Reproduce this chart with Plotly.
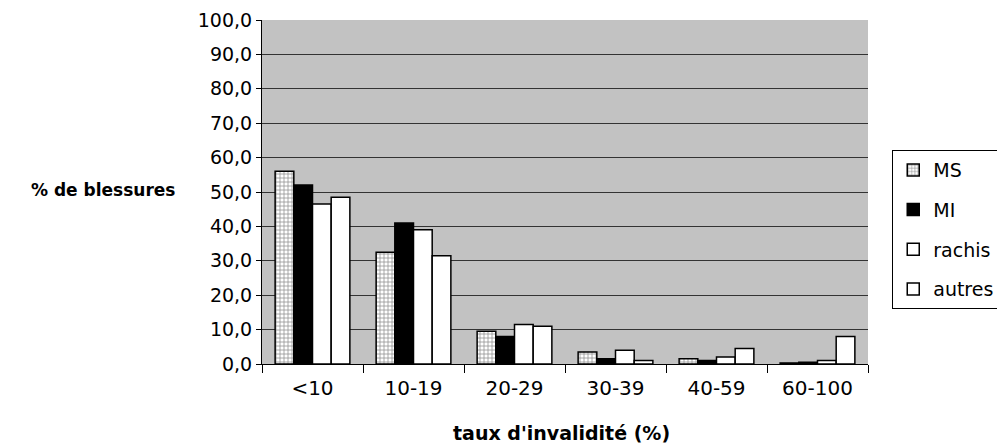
import plotly.graph_objects as go

categories = ["<10", "10-19", "20-29", "30-39", "40-59", "60-100"]
ms = [56.0, 32.5, 9.5, 3.5, 1.5, 0.3]
mi = [52.0, 41.0, 8.0, 1.5, 1.0, 0.5]
rachis = [46.5, 39.0, 11.5, 4.0, 2.0, 1.0]
autres = [48.5, 31.5, 11.0, 1.0, 4.5, 8.0]
y_ticks = [0, 10, 20, 30, 40, 50, 60, 70, 80, 90, 100]

FONT = "DejaVu Sans, Arial, sans-serif"

fig = go.Figure()
line = dict(color="black", width=1.5)
fig.add_bar(x=categories, y=ms, name="MS", legendgroup="a",
            marker=dict(color="white", line=line,
                        pattern=dict(shape="+", fgcolor="#222", bgcolor="white", size=4, solidity=0.35)))
fig.add_bar(x=categories, y=mi, name="MI", legendgroup="b",
            marker=dict(color="black", line=line))
fig.add_bar(x=categories, y=rachis, name="rachis", legendgroup="c",
            marker=dict(color="white", line=line))
fig.add_bar(x=categories, y=autres, name="autres", legendgroup="d",
            marker=dict(color="white", line=line))

fig.update_layout(
    width=997, height=435,
    margin=dict(l=254, r=137, t=12, b=79, autoexpand=False),
    paper_bgcolor="white",
    plot_bgcolor="#c2c2c2",
    barmode="group", bargap=0.26, bargroupgap=0,
    separators=", ",
    font=dict(family=FONT, size=19, color="black"),
    showlegend=True,
    legend=dict(x=1.04, y=0.622, xanchor="left", yanchor="top",
                bgcolor="white", bordercolor="black", borderwidth=1,
                font=dict(size=19), tracegroupgap=12, itemwidth=30),
)
fig.update_yaxes(range=[0, 100], tickvals=y_ticks, tickformat=".1f",
                 showgrid=True, gridcolor="#333", gridwidth=1,
                 showline=True, linecolor="black", linewidth=1,
                 ticks="outside", ticklen=5, tickcolor="black", zeroline=False)
fig.update_xaxes(showline=True, linecolor="black", linewidth=1,
                 ticks="outside", tickson="boundaries", ticklen=8, tickcolor="black",
                 showgrid=False, tickfont=dict(size=20), ticklabelstandoff=6)

fig.add_annotation(text="<b>% de blessures</b>", xref="paper", yref="paper",
                   x=-0.14, y=0.505, xanchor="right", yanchor="middle",
                   showarrow=False, font=dict(size=17))
fig.add_annotation(text="<b>taux d'invalidité (%)</b>", xref="paper", yref="paper",
                   x=0.495, y=-0.2, xanchor="center", yanchor="middle",
                   showarrow=False, font=dict(size=19))

fig.write_html("out.html")
